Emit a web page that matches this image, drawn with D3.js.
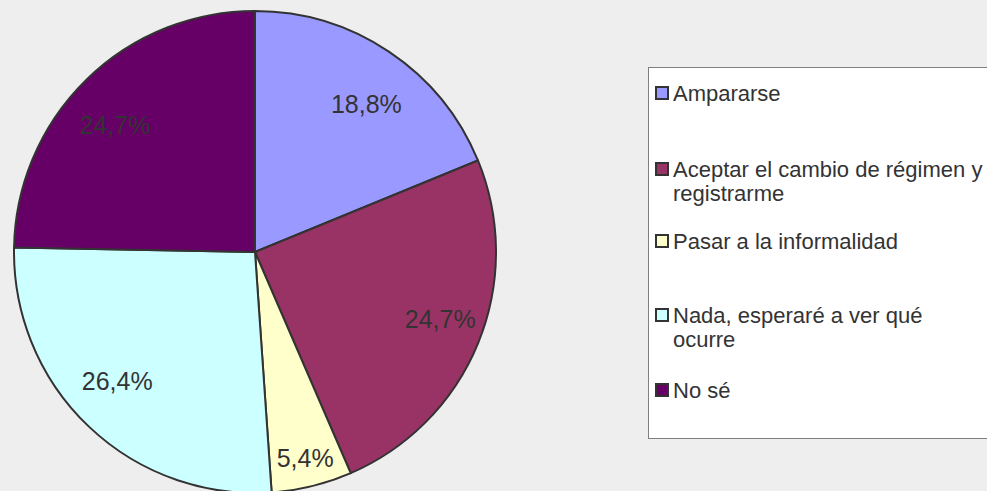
<!DOCTYPE html>
<html>
<head>
<meta charset="utf-8">
<script src="https://cdn.jsdelivr.net/npm/d3@7"></script>
<style>
  html, body { margin: 0; padding: 0; background: #eeeeee; }
  svg { display: block; }
</style>
</head>
<body>
<svg id="chart" width="987" height="491"></svg>
<script>
// Responses and their shares (%)
const categories = [
  "Ampararse",
  "Aceptar el cambio de régimen y registrarme",
  "Pasar a la informalidad",
  "Nada, esperaré a ver qué ocurre",
  "No sé"
];
const values = [18.8, 24.7, 5.4, 26.4, 24.7];
const colors = ["#9999ff", "#993366", "#ffffcc", "#ccffff", "#660066"];
// Legend text split into lines
const legendLines = [
  ["Ampararse"],
  ["Aceptar el cambio de régimen y", "registrarme"],
  ["Pasar a la informalidad"],
  ["Nada, esperaré a ver qué", "ocurre"],
  ["No sé"]
];

const svg = d3.select("#chart");
const fontFamily = "'Liberation Sans', Arial, sans-serif";

const cx = 255, cy = 252, r = 241;
const data = categories.map((c, i) => ({ name: c, value: values[i], color: colors[i] }));

const pie = d3.pie().value(d => d.value).sort(null);
const arcs = pie(data);
const arc = d3.arc().innerRadius(0).outerRadius(r);

const g = svg.append("g").attr("transform", `translate(${cx},${cy})`);

g.selectAll("path.slice")
  .data(arcs)
  .join("path")
  .attr("class", "slice")
  .attr("d", arc)
  .attr("fill", d => d.data.color)
  .attr("stroke", "#333333")
  .attr("stroke-width", 2)
  .attr("stroke-linejoin", "round");

// Percentage labels inside the slices; wide slices place them on a flattened ring,
// narrow ones closer to the rim
const fmt = v => v.toFixed(1).replace(".", ",") + "%";
g.selectAll("text.lbl")
  .data(arcs)
  .join("text")
  .attr("class", "lbl")
  .attr("transform", d => {
    const a = (d.startAngle + d.endAngle) / 2;
    const narrow = d.data.value < 10;
    const rx = narrow ? 212 : 200, ry = narrow ? 212 : 178;
    return `translate(${Math.sin(a) * rx},${-Math.cos(a) * ry})`;
  })
  .attr("text-anchor", "middle")
  .attr("dy", "0.36em")
  .attr("font-family", fontFamily)
  .attr("font-size", 25)
  .attr("fill", "#333333")
  .text(d => fmt(d.data.value));

// Legend
const lg = svg.append("g");
lg.append("rect")
  .attr("x", 648.5).attr("y", 67.5)
  .attr("width", 400).attr("height", 371)
  .attr("fill", "#ffffff")
  .attr("stroke", "#7f7f7f")
  .attr("stroke-width", 1);

const rowBaselines = [101, 177, 249, 323, 398];
const lineGap = 24;
legendLines.forEach((lines, i) => {
  const y0 = rowBaselines[i];
  lg.append("rect")
    .attr("x", 656).attr("y", y0 - 14)
    .attr("width", 12).attr("height", 12)
    .attr("fill", colors[i])
    .attr("stroke", "#333333")
    .attr("stroke-width", 2);
  lines.forEach((t, j) => {
    lg.append("text")
      .attr("x", 673).attr("y", y0 + j * lineGap)
      .attr("font-family", fontFamily)
      .attr("font-size", 22)
      .attr("fill", "#333333")
      .text(t);
  });
});
</script>
</body>
</html>
